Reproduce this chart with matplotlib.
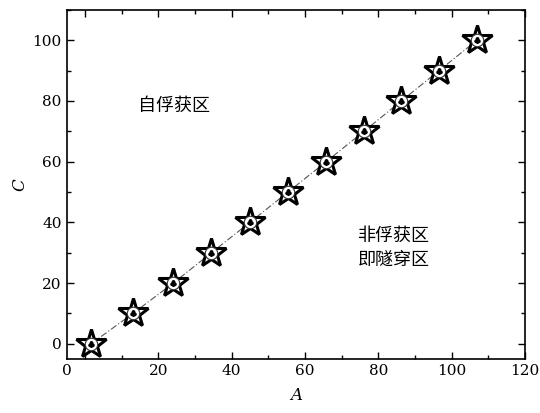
import matplotlib.pyplot as plt
from matplotlib.transforms import ScaledTranslation

# data
a_vals = [1.7, 13.1, 24.1, 34.5, 45.0, 55.4, 65.8, 76.1, 86.3, 96.6, 106.9]
c_vals = [0, 10, 20, 30, 40, 50, 60, 70, 80, 90, 100]
x_ticks = [0, 20, 40, 60, 80, 100, 120]
y_ticks = [0, 20, 40, 60, 80, 100]
label_capture = '自俘获区'
label_tunnel = '非俘获区\n即隧穿区'

plt.rcParams['font.family'] = ['DejaVu Serif']
cjk = ['Noto Sans CJK SC', 'DejaVu Sans']

fig = plt.figure(figsize=(5.4, 4.13), dpi=100)
ax = fig.add_axes([0.1235, 0.131, 0.8485, 0.845])

ax.plot(a_vals, c_vals, color='#555555', lw=0.8, ls=(0, (6, 2, 1, 2)), zorder=1)
ax.plot(a_vals, c_vals, ls='none', marker='*', ms=22, mfc='white', mec='black', mew=2.2, zorder=2)
ax.plot(a_vals, c_vals, ls='none', marker='o', ms=9, mfc='white', mec='#333333', mew=0.8, zorder=3)
ax.plot(a_vals, c_vals, ls='none', marker=r'$\clubsuit$', ms=4, mfc='black', mec='black', zorder=4)

ax.set_xlim(-5, 120)
ax.set_ylim(-5, 110)
ax.set_xticks(x_ticks)
ax.set_yticks(y_ticks)
ax.set_xticks(range(0, 121, 10), minor=True)
ax.set_yticks(range(0, 111, 10), minor=True)
ax.tick_params(which='both', direction='in', top=True, right=True, labelsize=11, width=1)
ax.tick_params(which='major', length=5)
ax.tick_params(which='minor', length=3)
for sp in ax.spines.values():
    sp.set_linewidth(1.2)

# the "0" label sits under the left spine in the original
lbl0 = ax.get_xticklabels()[0]
lbl0.set_transform(lbl0.get_transform() + ScaledTranslation(-0.18, 0, fig.dpi_scale_trans))

ax.set_xlabel('A', style='italic', fontsize=12, labelpad=7)
ax.set_ylabel('C', style='italic', fontsize=12, labelpad=3)

ax.text(24.3, 78.5, label_capture, family=cjk, fontsize=13, ha='center', va='center')
ax.text(74.5, 31.5, label_tunnel, family=cjk, fontsize=13, ha='left', va='center', linespacing=1.4)

fig.savefig('out.png', dpi=100)
